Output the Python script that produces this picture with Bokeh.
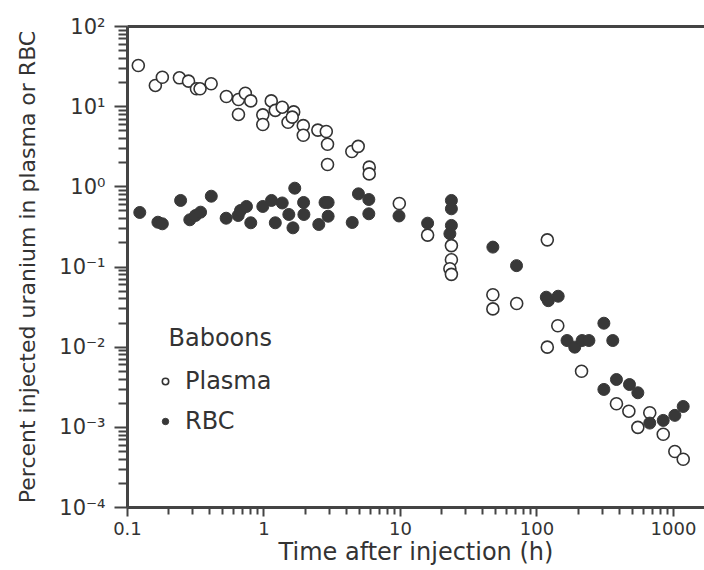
from bokeh.plotting import figure
from bokeh.models import (LogAxis, FixedTicker, CustomJSTickFormatter, Legend, LegendItem, Label)
from bokeh.embed import file_html
from bokeh.resources import INLINE

# ---- data ----
plasma_t = [0.12, 0.16, 0.18, 0.24, 0.28, 0.32, 0.34, 0.41, 0.53, 0.65,
            0.73, 0.80, 0.65, 0.98, 0.98, 1.13, 1.21, 1.36, 1.50, 1.65,
            1.61, 1.94, 1.94, 2.48, 2.86, 2.92, 2.92, 4.4, 4.9, 5.9,
            5.9, 9.8, 15.8, 23.6, 23.6, 23.0, 23.6, 119, 47.5, 47.5,
            71, 142, 119, 212, 382, 471, 548, 670, 841, 1023, 1178]
plasma_pct = [32.6, 18.4, 23.3, 22.9, 20.8, 16.7, 16.7, 19.3, 13.4, 12.3,
              14.7, 11.8, 8.0, 7.9, 6.0, 11.8, 9.0, 9.85, 6.4, 8.6,
              7.4, 5.8, 4.4, 5.1, 4.9, 3.4, 1.9, 2.76, 3.2, 1.76,
              1.45, 0.62, 0.25, 0.185, 0.123, 0.095, 0.081, 0.218, 0.045, 0.030,
              0.035, 0.0185, 0.0100, 0.0050, 0.00197, 0.00159, 0.00100, 0.00152,
              0.00082, 0.00050, 0.00040]

rbc_t = [0.123, 0.167, 0.180, 0.245, 0.286, 0.315, 0.343, 0.411, 0.528, 0.647,
         0.673, 0.744, 0.80, 0.98, 1.135, 1.21, 1.36, 1.52, 1.63, 1.68,
         1.95, 1.96, 2.52, 2.80, 2.95, 2.95, 4.43, 4.92, 5.86, 5.86,
         9.75, 15.8, 23.6, 23.6, 23.6, 23.0, 47.5, 70.8, 117, 121,
         143, 309, 359, 166, 189, 214, 240, 309, 382, 476,
         548, 670, 841, 1023, 1178]
rbc_pct = [0.479, 0.362, 0.346, 0.676, 0.388, 0.439, 0.483, 0.764, 0.406, 0.439,
           0.507, 0.569, 0.356, 0.569, 0.676, 0.356, 0.629, 0.452, 0.308, 0.962,
           0.638, 0.452, 0.339, 0.638, 0.638, 0.430, 0.359, 0.818, 0.695, 0.461,
           0.433, 0.352, 0.676, 0.532, 0.330, 0.260, 0.177, 0.104, 0.042, 0.038,
           0.0432, 0.0199, 0.0121, 0.0121, 0.0100, 0.0121, 0.0121, 0.00297, 0.00395, 0.00342,
           0.00270, 0.00113, 0.00122, 0.00141, 0.00182]

x_ticks = [0.1, 1, 10, 100, 1000]
y_ticks = [1e-4, 1e-3, 1e-2, 1e-1, 1e0, 1e1, 1e2]
x_minor = [m * d for d in [0.1, 1, 10, 100, 1000] for m in range(2, 10)]
y_minor = [m * d for d in [1e-4, 1e-3, 1e-2, 1e-1, 1e0, 1e1] for m in range(2, 10)]

FONT = "DejaVu Sans"
INK = "#333333"
AXC = "#444444"

p = figure(width=704, height=570, x_axis_type="log", y_axis_type="log",
           x_range=(0.1, 1687), y_range=(1e-4, 1e2),
           output_backend="svg", toolbar_location=None,
           min_border_left=127, min_border_top=26, min_border_right=0,
           min_border_bottom=63)
p.grid.visible = False
p.outline_line_color = None
p.background_fill_color = "white"
p.border_fill_color = "white"

xa = p.below[0]
ya = p.left[0]

r_pl = p.scatter(plasma_t, plasma_pct, size=12, marker="circle", fill_color="white",
                 line_color=INK, line_width=1.6)
r_rb = p.scatter(rbc_t, rbc_pct, size=12, marker="circle", fill_color="#383838",
                 line_color="#383838", line_width=1)

for ax in (xa, ya):
    ax.axis_line_width = 3
    ax.axis_line_color = AXC
    ax.major_tick_line_color = AXC
    ax.minor_tick_line_color = AXC
    ax.major_tick_line_width = 2
    ax.minor_tick_line_width = 2
    ax.major_tick_in = 0
    ax.minor_tick_in = 0
    ax.major_label_text_font = FONT
    ax.major_label_text_color = INK
    ax.axis_label_text_font = FONT
    ax.axis_label_text_color = INK
    ax.axis_label_text_font_style = "normal"

xa.ticker = FixedTicker(ticks=x_ticks, minor_ticks=x_minor)
xa.formatter = CustomJSTickFormatter(code="return String(Number(tick.toPrecision(3)));")
xa.major_tick_out = 9
xa.minor_tick_out = 7
xa.major_label_standoff = 5
xa.major_label_text_font_size = "18px"
xa.axis_label = "Time after injection (h)"
xa.axis_label_text_font_size = "24px"
xa.axis_label_standoff = 0

ya.ticker = FixedTicker(ticks=y_ticks, minor_ticks=y_minor)
ya.formatter = CustomJSTickFormatter(code="""
const e = Math.round(Math.log10(tick));
const m = {"-":"\\u207b","0":"\\u2070","1":"\\u00b9","2":"\\u00b2","3":"\\u00b3","4":"\\u2074"};
return "10" + String(e).split("").map(c => m[c]).join("");
""")
ya.major_tick_out = 13
ya.minor_tick_out = 9
ya.major_label_standoff = 9
ya.major_label_text_font_size = "21px"
ya.axis_label = "Percent injected uranium in plasma or RBC"
ya.axis_label_text_font_size = "22px"
ya.axis_label_standoff = 16

# top frame line
top = LogAxis(ticker=FixedTicker(ticks=[]), axis_line_width=3, axis_line_color=AXC,
              major_label_text_font_size="0px", major_tick_line_color=None,
              minor_tick_line_color=None, major_tick_out=0, major_label_standoff=0)
p.add_layout(top, "above")

legend = Legend(items=[LegendItem(label="Plasma", renderers=[r_pl]),
                       LegendItem(label="RBC", renderers=[r_rb])],
                location=(30, 72))
legend.label_text_font = FONT
legend.label_text_font_size = "24px"
legend.label_text_color = INK
legend.border_line_color = None
legend.background_fill_alpha = 0
legend.padding = 0
legend.margin = 0
legend.spacing = 12
legend.glyph_width = 16
legend.glyph_height = 22
legend.label_standoff = 12
p.add_layout(legend, "center")

title_lbl = Label(x=41, y=170, x_units="screen", y_units="screen", text="Baboons",
                  text_font=FONT, text_font_size="24px", text_color=INK,
                  text_baseline="alphabetic")
p.add_layout(title_lbl)

open("out.html", "w").write(file_html(p, INLINE))
